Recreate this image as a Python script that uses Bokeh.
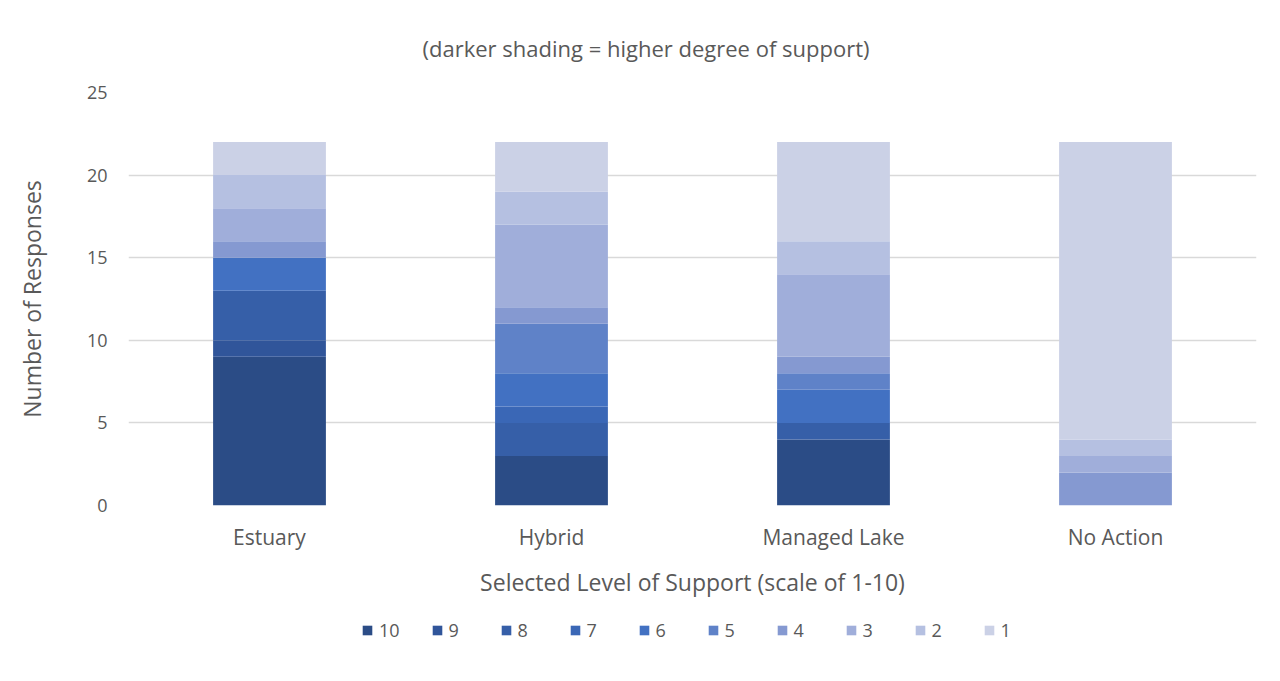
from bokeh.plotting import figure
from bokeh.layouts import column
from bokeh.models import FactorRange, Range1d, Legend, Title, FixedTicker
from bokeh.embed import file_html
from bokeh.resources import INLINE

# Options polled and the support level chosen (10 = strongest support)
options = ["Estuary", "Hybrid", "Managed Lake", "No Action"]
levels = ["10", "9", "8", "7", "6", "5", "4", "3", "2", "1"]

# Number of responses per option at each support level
resp_10 = [9, 3, 4, 0]
resp_9 = [1, 0, 0, 0]
resp_8 = [3, 2, 1, 0]
resp_7 = [0, 1, 0, 0]
resp_6 = [2, 2, 2, 0]
resp_5 = [0, 3, 1, 0]
resp_4 = [1, 1, 1, 2]
resp_3 = [2, 5, 5, 1]
resp_2 = [2, 2, 2, 1]
resp_1 = [2, 3, 6, 18]

y_ticks = [0, 5, 10, 15, 20, 25]

shades = ["#2b4c86", "#30559a", "#365fa8", "#3a67b6", "#4271c2",
          "#5f82c8", "#8599d1", "#a0aeda", "#b5c0e1", "#cbd1e6"]

data = {"option": options}
for lvl, vals in zip(levels, [resp_10, resp_9, resp_8, resp_7, resp_6,
                              resp_5, resp_4, resp_3, resp_2, resp_1]):
    data[lvl] = vals

FONT = "Open Sans"
GREY = "#595959"

p = figure(
    x_range=FactorRange(factors=options),
    y_range=Range1d(0, 25),
    width=1280, height=600,
    output_backend="svg", toolbar_location=None,
    min_border_left=128, min_border_right=24,
    min_border_top=92, min_border_bottom=92,
    background_fill_color="white", border_fill_color="white",
)
p.outline_line_color = None

bars = p.vbar_stack(levels, x="option", width=0.4, source=data,
                    color=shades, line_color=None)

# axes
p.yaxis.ticker = FixedTicker(ticks=y_ticks)
p.yaxis.axis_line_color = None
p.yaxis.major_tick_line_color = None
p.yaxis.minor_tick_line_color = None
p.yaxis.major_label_text_font = FONT
p.yaxis.major_label_text_font_size = "18px"
p.yaxis.major_label_text_color = GREY
p.yaxis.major_label_standoff = 15
p.yaxis.axis_label = "Number of Responses"
p.yaxis.axis_label_text_font = FONT
p.yaxis.axis_label_text_font_size = "23px"
p.yaxis.axis_label_text_font_style = "normal"
p.yaxis.axis_label_text_color = GREY
p.yaxis.axis_label_standoff = 36

p.xaxis.axis_line_color = None
p.xaxis.major_tick_line_color = None
p.xaxis.major_label_text_font = FONT
p.xaxis.major_label_text_font_size = "21px"
p.xaxis.major_label_text_color = GREY
p.xaxis.major_label_standoff = 11
p.xaxis.axis_label = "Selected Level of Support (scale of 1-10)"
p.xaxis.axis_label_text_font = FONT
p.xaxis.axis_label_text_font_size = "23px"
p.xaxis.axis_label_text_font_style = "normal"
p.xaxis.axis_label_text_color = GREY
p.xaxis.axis_label_standoff = 12

p.xgrid.grid_line_color = None
p.ygrid.grid_line_color = "#d9d9d9"
p.ygrid.grid_line_width = 1.5

title = Title(text="(darker shading = higher degree of support)",
              align="left", offset=294, text_font=FONT, text_font_size="22px",
              text_font_style="normal", text_color=GREY, standoff=60)
p.add_layout(title, "above")

# legend strip under the chart; its keys come from zero-height stand-in bars
# kept outside the strip's visible range
strip = figure(
    x_range=FactorRange(factors=options), y_range=Range1d(10, 11),
    width=1280, height=81, output_backend="svg", toolbar_location=None,
    x_axis_type=None, y_axis_type=None,
    min_border_left=0, min_border_right=0, min_border_top=0, min_border_bottom=0,
    background_fill_color="white", border_fill_color="white",
)
strip.outline_line_color = None
strip.grid.visible = False
keys_src = {"option": [options[0]]}
for lvl in levels:
    keys_src[lvl] = [0]
keys = strip.vbar_stack(levels, x="option", width=0.4, source=keys_src,
                        color=shades, line_color=None)

legend = Legend(
    items=[(lvl, [r]) for lvl, r in zip(levels, keys)],
    orientation="horizontal", location=(233, 39),
    border_line_color=None, background_fill_alpha=0,
    glyph_width=12, glyph_height=12, label_standoff=6, spacing=31,
    label_text_font=FONT, label_text_font_size="18px", label_text_color=GREY,
    margin=0, padding=4,
)
strip.add_layout(legend)

layout = column(p, strip, spacing=0)
open("out.html", "w").write(file_html(layout, INLINE))
